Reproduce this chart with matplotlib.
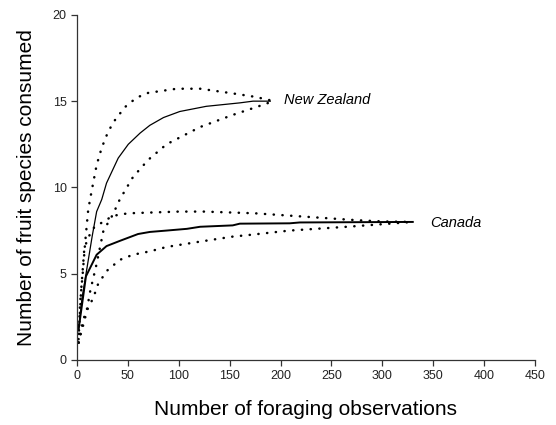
import matplotlib

matplotlib.use("Agg")

import matplotlib.pyplot as plt

plt.rcParams["font.family"] = ["Liberation Sans", "DejaVu Sans"]

# New Zealand rarefaction curve with bounds
nz_x = [1.5, 5, 10, 15, 19.3, 24.3, 29, 40.5, 50.4, 62, 71.6, 85, 101, 127, 160, 173, 190]
nz_y = [1.75, 3.6, 5.4, 7.2, 8.6, 9.3, 10.25, 11.7, 12.5, 13.15, 13.6, 14.05, 14.4, 14.7, 14.9, 15.0, 15.0]
nz_up_x = [1.5, 3, 5.6, 8, 11, 14.4, 19.3, 24.3, 30.7, 37.3, 47, 58.5, 70, 98, 121, 153, 175, 190]
nz_up_y = [1.0, 3.3, 5.0, 6.8, 8.7, 9.8, 11.3, 12.3, 13.25, 13.9, 14.65, 15.2, 15.48, 15.72, 15.72, 15.45, 15.25, 15.05]
nz_lo_x = [1.5, 6, 10, 13, 19, 26, 35, 42, 55, 70, 88, 121, 153, 186, 190]
nz_lo_y = [1.0, 2.3, 3.0, 4.0, 5.5, 7.5, 8.4, 9.3, 10.6, 11.6, 12.5, 13.5, 14.2, 14.85, 14.95]

# Canada rarefaction curve with bounds
ca_x = [1.5, 8.8, 19.3, 29, 42, 60, 71.6, 88, 108, 121, 153, 160, 209, 219, 330]
ca_y = [1.75, 4.85, 6.1, 6.6, 6.9, 7.3, 7.42, 7.5, 7.6, 7.72, 7.8, 7.9, 7.92, 7.97, 8.0]
ca_up_x = [1.5, 4, 7, 10, 17, 27, 35, 50, 75, 100, 125, 150, 175, 200, 225, 250, 275, 300, 330]
ca_up_y = [1.2, 4.0, 6.3, 7.0, 7.7, 8.05, 8.35, 8.5, 8.55, 8.6, 8.6, 8.55, 8.5, 8.4, 8.3, 8.2, 8.1, 8.03, 8.0]
ca_lo_x = [1.5, 3, 6, 10, 16, 21, 30, 42, 55, 72, 88, 121, 153, 170, 209, 268, 330]
ca_lo_y = [1.0, 1.36, 2.0, 2.9, 3.6, 4.45, 5.2, 5.8, 6.1, 6.3, 6.55, 6.86, 7.15, 7.25, 7.5, 7.73, 8.0]

x_ticks = [0, 50, 100, 150, 200, 250, 300, 350, 400, 450]
y_ticks = [0, 5, 10, 15, 20]

DOTS = (0, (0.1, 3.4))

fig = plt.figure(figsize=(5.56, 4.25), dpi=100)
ax = fig.add_axes([0.1385, 0.153, 0.8235, 0.812])

ax.plot(nz_x, nz_y, color="black", linewidth=0.9)
ax.plot(ca_x, ca_y, color="black", linewidth=1.4)
for xs, ys in [(nz_up_x, nz_up_y), (nz_lo_x, nz_lo_y), (ca_up_x, ca_up_y), (ca_lo_x, ca_lo_y)]:
    ax.plot(xs, ys, color="black", linewidth=1.8, linestyle=DOTS, dash_capstyle="round")

ax.text(203, 15.07, "New Zealand", fontsize=10.5, style="italic", va="center", ha="left")
ax.text(347, 7.92, "Canada", fontsize=10.5, style="italic", va="center", ha="left")

ax.set_xlim(0, 450)
ax.set_ylim(0, 20)
ax.set_xticks(x_ticks)
ax.set_yticks(y_ticks)
ax.tick_params(axis="both", labelsize=9, length=4, width=0.9, colors="#333333", labelcolor="#222222")
for side in ["top", "right"]:
    ax.spines[side].set_visible(False)
for side in ["left", "bottom"]:
    ax.spines[side].set_linewidth(0.9)
    ax.spines[side].set_color("#333333")

ax.set_xlabel("Number of foraging observations", fontsize=15, labelpad=13)
ax.set_ylabel("Number of fruit species consumed", fontsize=15, labelpad=12)

fig.savefig("out.png", dpi=100)
